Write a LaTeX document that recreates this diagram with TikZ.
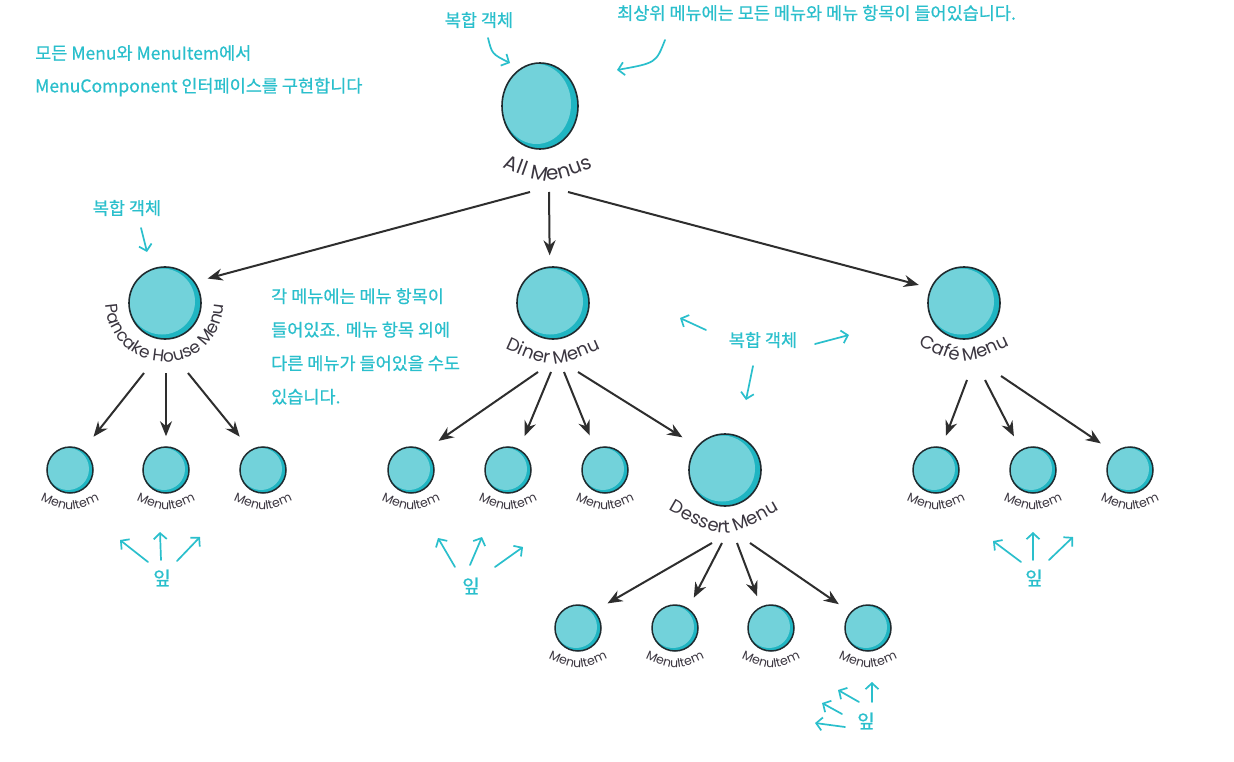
\documentclass[tikz,border=0pt]{standalone}
\usepackage{fontspec}
\setmainfont{Poppins}
\newfontfamily\kofont{Noto Sans CJK KR}[BoldFont=*, BoldFeatures={FakeBold=0.6}]
\usetikzlibrary{arrows.meta,decorations.text,shapes.geometric,calc}
\definecolor{cymain}{HTML}{72D2DA}
\definecolor{cydark}{HTML}{1FB5C2}
\definecolor{ink}{HTML}{1F2B2F}
\definecolor{arrowc}{HTML}{2E2E2E}
\definecolor{notec}{HTML}{2ABFCC}
\definecolor{labc}{HTML}{3B3640}
\newcommand\biglab{\fontsize{18}{20}\selectfont}
\newcommand\smalllab{\fontsize{12.5}{14}\selectfont}
\tikzset{
  ballM/.style={circle, draw=ink, line width=1.6pt, fill=cydark, inner sep=0pt, minimum size=72pt,
    path picture={\fill[cymain] ([xshift=-3pt,yshift=1.5pt]path picture bounding box.center) circle[radius=33pt];}},
  ballS/.style={circle, draw=ink, line width=1.5pt, fill=cydark, inner sep=0pt, minimum size=46pt,
    path picture={\fill[cymain] ([xshift=-2pt,yshift=1pt]path picture bounding box.center) circle[radius=21pt];}},
  ballT/.style={ellipse, draw=ink, line width=1.6pt, fill=cydark, inner sep=0pt, minimum width=76pt, minimum height=86pt,
    path picture={\fill[cymain] ([xshift=-3.5pt,yshift=2pt]path picture bounding box.center) ellipse[x radius=34.5pt, y radius=40pt];}},
  conn/.style={draw=arrowc, line width=2pt, -{Stealth[length=15pt,width=12pt]}},
  note/.style={text=notec, font=\kofont\bfseries\fontsize{17.5}{20}\selectfont, inner sep=0pt},
  leaf/.style={text=notec, font=\kofont\bfseries\fontsize{19}{22}\selectfont, inner sep=0pt},
  na/.style={draw=notec, line width=1.7pt, line cap=round, line join=round, -{Straight Barb[length=6pt,width=13pt]}},
  itemlab/.style={decorate, decoration={text along path, text={|\smalllab|MenuItem}, text align=center, text color=labc}},
}
\newcommand\itemlabel[1]{\path[itemlab] ($(#1)+(-35,-28)$) .. controls ($(#1)+(0,-44)$) .. ($(#1)+(35,-28)$);}
\begin{document}
\begin{tikzpicture}[x=1pt,y=1pt]
\useasboundingbox (0,0) rectangle (1234,-762);
\fill[white] (0,0) rectangle (1234,-762);

% nodes
\node[ballT] (am) at (540,-106) {};
\node[ballM] (pm) at (165,-303) {};
\node[ballM] (dm) at (553,-303) {};
\node[ballM] (cm) at (964,-303) {};
\node[ballM] (sm) at (725,-470) {};
\node[ballS] (p1) at (70,-470) {};
\node[ballS] (p2) at (166,-470) {};
\node[ballS] (p3) at (263,-470) {};
\node[ballS] (d1) at (411,-470) {};
\node[ballS] (d2) at (508,-470) {};
\node[ballS] (d3) at (605,-470) {};
\node[ballS] (c1) at (936,-470) {};
\node[ballS] (c2) at (1033,-470) {};
\node[ballS] (c3) at (1130,-470) {};
\node[ballS] (e1) at (578,-628) {};
\node[ballS] (e2) at (675,-628) {};
\node[ballS] (e3) at (771,-628) {};
\node[ballS] (e4) at (868,-628) {};

% curved labels
\path[decorate, decoration={text along path, text={|\fontsize{20}{22}\selectfont|All Menus}, text align=center, text color=labc}]
  (494,-164) .. controls (548,-186) .. (602,-164);
\path[decorate, decoration={text along path, text={|\biglab|Diner Menu}, text align=center, text color=labc}]
  (500,-346) .. controls (553,-370) .. (606,-346);
\path[decorate, decoration={text along path, text={|\biglab|Café Menu}, text align=center, text color=labc}]
  (914,-343) .. controls (964,-367) .. (1014,-343);
\path[decorate, decoration={text along path, text={|\biglab|Dessert Menu}, text align=center, text color=labc}]
  (662,-506) .. controls (724,-542) .. (786,-506);
\path[decorate, decoration={text along path, text={|\fontsize{17}{19}\selectfont|Pancake House Menu}, text align=center, text color=labc}]
  (pm.center) ++(180:59) arc[start angle=180, end angle=360, radius=59];
\foreach \n in {p1,p2,p3,d1,d2,d3,c1,c2,c3,e1,e2,e3,e4} {\itemlabel{\n}}

% connector start points
\coordinate (s0a) at (530,-192);
\coordinate (s0b) at (549,-192);
\coordinate (s0c) at (568,-192);
\coordinate (sp1) at (144,-373);
\coordinate (sp2) at (166,-373);
\coordinate (sp3) at (188,-373);
\coordinate (sd1) at (538,-372);
\coordinate (sd2) at (551,-372);
\coordinate (sd3) at (564,-372);
\coordinate (sd4) at (578,-372);
\coordinate (sc1) at (967,-380);
\coordinate (sc2) at (985,-380);
\coordinate (sc3) at (1001,-376);
\coordinate (se1) at (712,-543);
\coordinate (se2) at (722,-543);
\coordinate (se3) at (737,-543);
\coordinate (se4) at (750,-543);

% connectors
\draw[conn, shorten >=13pt] (s0a) -- (pm.35);
\draw[conn, shorten >=11pt] (s0b) -- (dm.95);
\draw[conn, shorten >=12pt] (s0c) -- (cm.156);
\draw[conn, shorten >=17pt] (sp1) -- (p1.57);
\draw[conn, shorten >=10pt] (sp2) -- (p2.90);
\draw[conn, shorten >=17pt] (sp3) -- (p3.122);
\draw[conn, shorten >=17pt] (sd1) -- (d1.55);
\draw[conn, shorten >=14pt] (sd2) -- (d2.62);
\draw[conn, shorten >=14pt] (sd3) -- (d3.115);
\draw[conn, shorten >=17pt] (sd4) -- (sm.140);
\draw[conn, shorten >=12pt] (sc1) -- (c1.76);
\draw[conn, shorten >=15pt] (sc2) -- (c2.121);
\draw[conn, shorten >=16pt] (sc3) -- (c3.132);
\draw[conn, shorten >=15pt] (se1) -- (e1.46);
\draw[conn, shorten >=12pt] (se2) -- (e2.56);
\draw[conn, shorten >=11pt] (se3) -- (e3.115);
\draw[conn, shorten >=14pt] (se4) -- (e4.138);

% annotations
\node[note, anchor=west] (t1) at (35,-53) {모든 Menu와 MenuItem에서};
\node[note, anchor=west] (t2) at (35,-87) {MenuComponent 인터페이스를 구현합니다};
\node[note] (t3) at (479,-20) {복합 객체};
\node[note, anchor=west] (t4) at (617,-13) {최상위 메뉴에는 모든 메뉴와 메뉴 항목이 들어있습니다.};
\node[note] (t5) at (127,-208) {복합 객체};
\node[note, anchor=north west, align=left, font=\kofont\bfseries\fontsize{17.5}{33.5}\selectfont] (t6) at (271,-288)
  {각 메뉴에는 메뉴 항목이\\들어있죠. 메뉴 항목 외에\\다른 메뉴가 들어있을 수도\\있습니다.};
\node[note] (t7) at (763,-340) {복합 객체};
\node[leaf] (l1) at (162,-578) {잎};
\node[leaf] (l2) at (471,-586) {잎};
\node[leaf] (l3) at (1034,-578) {잎};
\node[leaf] (l4) at (866,-721) {잎};

% annotation arrow points
\coordinate (a1s) at (488,-38);  \coordinate (a1e) at (510,-63);
\coordinate (a2s) at (665,-40);  \coordinate (a2e) at (617,-70);
\coordinate (a3s) at (141,-228); \coordinate (a3e) at (147,-252);
\coordinate (a4s) at (706,-330); \coordinate (a4e) at (680,-318);
\coordinate (a5s) at (815,-344); \coordinate (a5e) at (849,-335);
\coordinate (a6s) at (753,-366); \coordinate (a6e) at (746,-400);
\coordinate (b1s) at (148,-562); \coordinate (b1e) at (120,-540);
\coordinate (b2s) at (161,-560); \coordinate (b2e) at (160,-532);
\coordinate (b3s) at (177,-561); \coordinate (b3e) at (200,-537);
\coordinate (b4s) at (455,-567); \coordinate (b4e) at (438,-538);
\coordinate (b5s) at (470,-565); \coordinate (b5e) at (482,-537);
\coordinate (b6s) at (495,-567); \coordinate (b6e) at (523,-547);
\coordinate (b7s) at (1021,-562); \coordinate (b7e) at (993,-541);
\coordinate (b8s) at (1033,-560); \coordinate (b8e) at (1033,-532);
\coordinate (b9s) at (1049,-560); \coordinate (b9e) at (1073,-537);
\coordinate (b10s) at (845,-727); \coordinate (b10e) at (815,-723);
\coordinate (b11s) at (842,-714); \coordinate (b11e) at (822,-703);
\coordinate (b12s) at (859,-702); \coordinate (b12e) at (838,-690);
\coordinate (b13s) at (872,-702); \coordinate (b13e) at (872,-682);

\draw[na] (a1s) .. controls (492,-54) .. (a1e);
\draw[na] (a2s) .. controls (656,-63) .. (a2e);
\draw[na] (a3s) -- (a3e);
\draw[na] (a4s) -- (a4e);
\draw[na] (a5s) -- (a5e);
\draw[na] (a6s) -- (a6e);
\foreach \k in {1,...,13} {\draw[na] (b\k s) -- (b\k e);}
\end{tikzpicture}
\end{document}
